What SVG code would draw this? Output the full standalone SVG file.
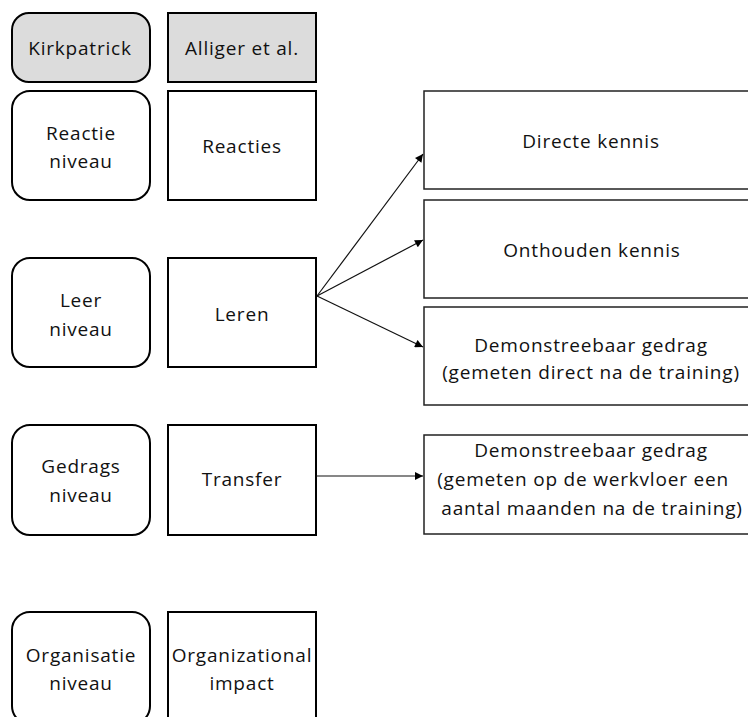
<svg xmlns="http://www.w3.org/2000/svg" width="748" height="717" viewBox="0 0 748 717">
<defs>
<style>
.rb{fill:#fff;stroke:#000;stroke-width:2}
.sq{fill:#fff;stroke:#000;stroke-width:2}
.rb.hd,.sq.hd{fill:#dcdcdc}
.ob{fill:#fff;stroke:#222;stroke-width:1.5}
text{font-family:"Open Sans","DejaVu Sans",sans-serif;font-size:19px;letter-spacing:0.8px;fill:#111;text-anchor:middle}
.cn{stroke:#111;stroke-width:1.2;fill:none;marker-end:url(#ah)}
</style>
<marker id="ah" viewBox="0 0 10 10" refX="10" refY="5" markerWidth="10" markerHeight="8" markerUnits="userSpaceOnUse" orient="auto">
<path d="M0,0 L10,5 L0,10 z" fill="#000"/>
</marker>
</defs>
<rect width="748" height="717" fill="#fff"/>
<g id="kirkpatrick"><rect class="rb hd" x="12" y="13" width="138" height="69" rx="17"/><text x="80" y="55">Kirkpatrick</text></g>
<g id="alliger"><rect class="sq hd" x="168" y="13" width="148" height="69"/><text x="242" y="55">Alliger et al.</text></g>
<g id="reactie-niveau"><rect class="rb" x="12" y="91" width="138" height="109" rx="18"/><text x="81" y="140">Reactie</text><text x="81" y="168">niveau</text></g>
<g id="reacties"><rect class="sq" x="168" y="91" width="148" height="109"/><text x="242" y="153">Reacties</text></g>
<g id="leer-niveau"><rect class="rb" x="12" y="258" width="138" height="109" rx="18"/><text x="81" y="307">Leer</text><text x="81" y="336">niveau</text></g>
<g id="leren"><rect class="sq" x="168" y="258" width="148" height="109"/><text x="242" y="321">Leren</text></g>
<g id="gedrags-niveau"><rect class="rb" x="12" y="425" width="138" height="110" rx="18"/><text x="81" y="473">Gedrags</text><text x="81" y="502">niveau</text></g>
<g id="transfer"><rect class="sq" x="168" y="425" width="148" height="110"/><text x="242" y="486">Transfer</text></g>
<g id="organisatie-niveau"><rect class="rb" x="12" y="612" width="138" height="112" rx="18"/><text x="81" y="662">Organisatie</text><text x="81" y="690">niveau</text></g>
<g id="organizational-impact"><rect class="sq" x="168" y="612" width="148" height="112"/><text x="242" y="662">Organizational</text><text x="242" y="690">impact</text></g>
<g id="directe-kennis"><rect class="ob" x="424" y="91" width="330" height="98"/><text x="591" y="148">Directe kennis</text></g>
<g id="onthouden-kennis"><rect class="ob" x="424" y="200" width="330" height="98"/><text x="592" y="257">Onthouden kennis</text></g>
<g id="demonstreebaar-direct"><rect class="ob" x="424" y="307" width="330" height="98"/><text x="591" y="352">Demonstreebaar gedrag</text><text x="591" y="379">(gemeten direct na de training)</text></g>
<g id="demonstreebaar-werkvloer"><rect class="ob" x="424" y="435" width="330" height="99"/><text x="591" y="457">Demonstreebaar gedrag</text><text x="583" y="486">(gemeten op de werkvloer een</text><text x="592" y="515">aantal maanden na de training)</text></g>
<g id="connectors">
<line class="cn" x1="317" y1="296" x2="423" y2="154"/>
<line class="cn" x1="317" y1="296" x2="423" y2="240"/>
<line class="cn" x1="317" y1="296" x2="423" y2="347"/>
<line class="cn" x1="316" y1="476" x2="423" y2="476"/>
</g>
</svg>
